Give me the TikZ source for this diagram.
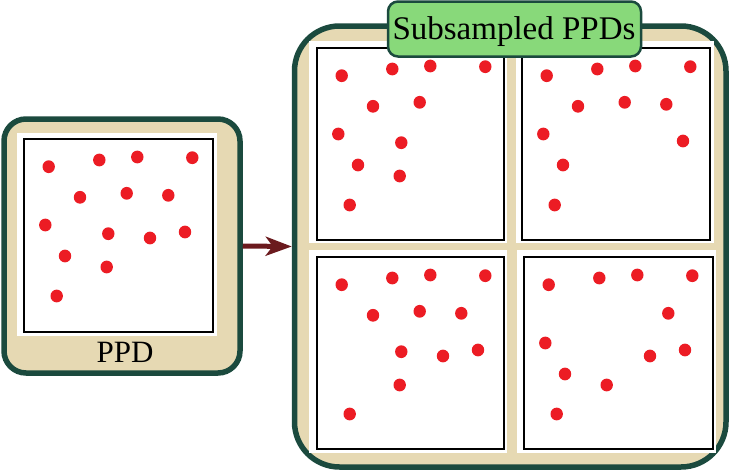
\documentclass[tikz,border=0pt]{standalone}
\usepackage{fontspec}
\setmainfont{Liberation Serif}
\usetikzlibrary{arrows.meta}
\definecolor{frame}{HTML}{1B4A3E}
\definecolor{tanfill}{HTML}{E6D9B3}
\definecolor{titlegreen}{HTML}{88D97A}
\definecolor{dotred}{HTML}{EC1C24}
\definecolor{arrowred}{HTML}{6B1A1E}
\def\DX{{25.7,76.3,114.3,169.3,57,103.7,145.3,22.3,85.3,127,162,42,83.7,33.7}}
\def\DY{{28.7,22,19,19.7,59.3,55.3,57.3,87,95.7,100,94,118,129,158}}
\newcommand\drawdotsat[3]{%
  \foreach \i in {#3}{%
    \pgfmathsetmacro\dx{\DX[\i-1]}%
    \pgfmathsetmacro\dy{\DY[\i-1]}%
    \fill[dotred] (#1+\dx,#2+\dy) circle[x radius=6.2pt, y radius=6.4pt];
  }%
}
\tikzset{
  panel/.style={draw=frame, line width=5.5pt, fill=tanfill, inner sep=0pt},
  whitearea/.style={fill=white, draw=none, inner sep=0pt, anchor=north west},
  sqbox/.style={draw=black, line width=2pt, fill=white, inner sep=0pt, anchor=north west},
  titlebox/.style={draw=frame, line width=2.5pt, fill=titlegreen, rounded corners=10pt, inner sep=0pt},
  conn/.style={draw=arrowred, line width=5pt, -{Stealth[length=26pt,width=19pt,inset=7pt]}}
}
\begin{document}
\begin{tikzpicture}[x=1pt,y=-1pt]
\useasboundingbox (0,0) rectangle (729,471);
% left panel
\node[panel, rounded corners=22pt, minimum width=236pt, minimum height=254pt] (ppd) at (122,246) {};
\node[whitearea, minimum width=200pt, minimum height=203pt] (w0) at (17,133) {};
\node[sqbox, minimum width=189pt, minimum height=193pt] (s0) at (23,138) {};
\drawdotsat{23}{138}{1,2,3,4,5,6,7,8,9,10,11,12,13,14}
\node[font=\fontsize{31}{34}\selectfont, anchor=base, inner sep=0pt] (ppdlabel) at (125,362) {PPD};
% right panel
\node[panel, rounded corners=45pt, minimum width=431.5pt, minimum height=441pt] (sub) at (510.25,246.5) {};
\node[whitearea, minimum width=198pt, minimum height=202pt] (w1) at (309,41) {};
\node[whitearea, minimum width=198pt, minimum height=202pt] (w2) at (516,41) {};
\node[whitearea, minimum width=198pt, minimum height=203pt] (w3) at (309,250) {};
\node[whitearea, minimum width=199pt, minimum height=203pt] (w4) at (517,250) {};
\node[sqbox, minimum width=187pt, minimum height=192pt] (s1) at (316,47) {};
\node[sqbox, minimum width=188pt, minimum height=192pt] (s2) at (521,47) {};
\node[sqbox, minimum width=187pt, minimum height=192pt] (s3) at (316,256) {};
\node[sqbox, minimum width=189pt, minimum height=192pt] (s4) at (523,256) {};
\drawdotsat{316}{47}{1,2,3,4,5,6,8,9,12,13,14}
\drawdotsat{521}{47}{1,2,3,4,5,6,7,8,11,12,14}
\drawdotsat{316}{256}{1,2,3,4,5,6,7,9,10,11,13,14}
\drawdotsat{523}{256}{1,2,3,4,7,8,10,11,12,13,14}
% title
\node[titlebox, minimum width=253pt, minimum height=55pt] (tb) at (514.5,29) {};
\node[font=\fontsize{33}{36}\selectfont, anchor=base, inner sep=0pt] (tt) at (514,39) {Subsampled PPDs};
% connector
\draw[conn] (ppd.east) -- (sub.west);
\end{tikzpicture}
\end{document}
